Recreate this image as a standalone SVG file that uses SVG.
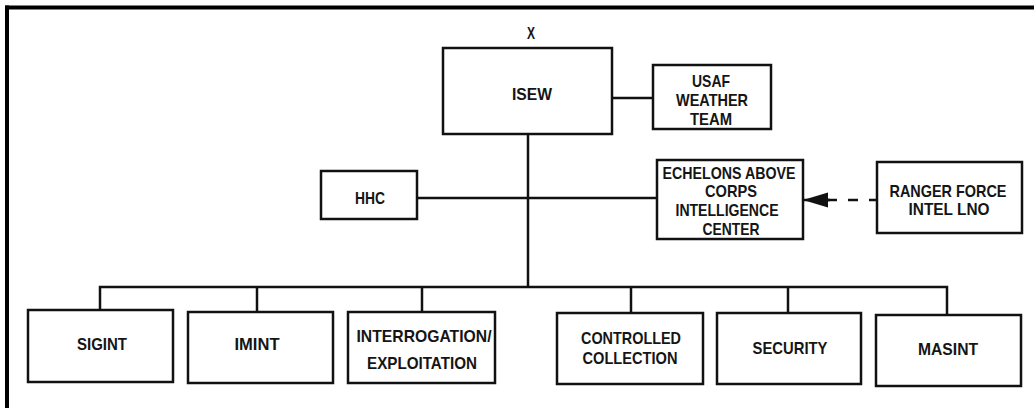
<svg xmlns="http://www.w3.org/2000/svg" width="1034" height="408" viewBox="0 0 1034 408">
<style>
.box{fill:#fff;stroke:#111;stroke-width:2.5}
.ln{fill:none;stroke:#111;stroke-width:2.5}
.t{font-family:"Liberation Sans",Arial,sans-serif;font-weight:bold;font-size:17px;fill:#151515;text-anchor:middle}
</style>
<defs>
<marker id="ah" markerWidth="26" markerHeight="16" refX="25" refY="8" orient="auto" markerUnits="userSpaceOnUse">
<path d="M0,0.5 L25,8 L0,15.5 Z" fill="#111"/>
</marker>
</defs>
<rect width="1034" height="408" fill="#fff"/>
<g id="frame">
<line x1="5" y1="7.5" x2="1034" y2="7.5" stroke="#000" stroke-width="4"/>
<line x1="7" y1="5.5" x2="7" y2="408" stroke="#000" stroke-width="4"/>
</g>
<g id="connectors">
<line class="ln" x1="612" y1="98" x2="653" y2="98"/>
<line class="ln" x1="528" y1="134" x2="528" y2="287"/>
<line class="ln" x1="417" y1="198" x2="657" y2="198"/>
<path class="ln" d="M100,310 V287 H947 V315"/>
<line class="ln" x1="257" y1="287" x2="257" y2="312"/>
<line class="ln" x1="422" y1="287" x2="422" y2="312"/>
<line class="ln" x1="631" y1="287" x2="631" y2="313"/>
<line class="ln" x1="788" y1="287" x2="788" y2="313"/>
<line class="ln" x1="827" y1="200" x2="877" y2="200" stroke-dasharray="10 11"/>
<line x1="830" y1="200" x2="803" y2="200" stroke="#111" stroke-width="2.5" marker-end="url(#ah)"/>
</g>
<g id="isew">
<text class="t" x="531" y="39" textLength="8" lengthAdjust="spacingAndGlyphs">X</text>
<rect class="box" x="443" y="48" width="169" height="86"/>
<text class="t" x="532" y="99.5" textLength="40" lengthAdjust="spacingAndGlyphs">ISEW</text>
</g>
<g id="usaf">
<rect class="box" x="653" y="65" width="118" height="64"/>
<text class="t" x="711" y="86.5" textLength="38" lengthAdjust="spacingAndGlyphs">USAF</text>
<text class="t" x="712" y="106" textLength="72" lengthAdjust="spacingAndGlyphs">WEATHER</text>
<text class="t" x="711" y="124.5" textLength="42" lengthAdjust="spacingAndGlyphs">TEAM</text>
</g>
<g id="hhc">
<rect class="box" x="321" y="171" width="96" height="48"/>
<text class="t" x="370" y="203.5" textLength="30" lengthAdjust="spacingAndGlyphs">HHC</text>
</g>
<g id="eac">
<rect class="box" x="657" y="160" width="146" height="79"/>
<text class="t" x="729" y="178.5" textLength="133" lengthAdjust="spacingAndGlyphs">ECHELONS ABOVE</text>
<text class="t" x="731" y="196.5" textLength="52" lengthAdjust="spacingAndGlyphs">CORPS</text>
<text class="t" x="727" y="215.5" textLength="103" lengthAdjust="spacingAndGlyphs">INTELLIGENCE</text>
<text class="t" x="731" y="234.5" textLength="57" lengthAdjust="spacingAndGlyphs">CENTER</text>
</g>
<g id="ranger">
<rect class="box" x="877" y="162" width="145" height="71"/>
<text class="t" x="948" y="196.5" textLength="117" lengthAdjust="spacingAndGlyphs">RANGER FORCE</text>
<text class="t" x="949" y="214.5" textLength="81" lengthAdjust="spacingAndGlyphs">INTEL LNO</text>
</g>
<g id="sigint">
<rect class="box" x="28" y="310" width="145" height="72"/>
<text class="t" x="102" y="349.5" textLength="50" lengthAdjust="spacingAndGlyphs">SIGINT</text>
</g>
<g id="imint">
<rect class="box" x="188" y="312" width="145" height="71"/>
<text class="t" x="257" y="349.5" textLength="45" lengthAdjust="spacingAndGlyphs">IMINT</text>
</g>
<g id="interrogation">
<rect class="box" x="348" y="312" width="147" height="71"/>
<text class="t" x="424" y="341.5" textLength="135" lengthAdjust="spacingAndGlyphs">INTERROGATION/</text>
<text class="t" x="422" y="368.5" textLength="110" lengthAdjust="spacingAndGlyphs">EXPLOITATION</text>
</g>
<g id="controlled">
<rect class="box" x="557" y="313" width="146" height="71"/>
<text class="t" x="631" y="343.5" textLength="100" lengthAdjust="spacingAndGlyphs">CONTROLLED</text>
<text class="t" x="630" y="363.5" textLength="95" lengthAdjust="spacingAndGlyphs">COLLECTION</text>
</g>
<g id="security">
<rect class="box" x="717" y="313" width="144" height="71"/>
<text class="t" x="790" y="353.5" textLength="75" lengthAdjust="spacingAndGlyphs">SECURITY</text>
</g>
<g id="masint">
<rect class="box" x="876" y="315" width="145" height="71"/>
<text class="t" x="948" y="354.5" textLength="60" lengthAdjust="spacingAndGlyphs">MASINT</text>
</g>
</svg>
